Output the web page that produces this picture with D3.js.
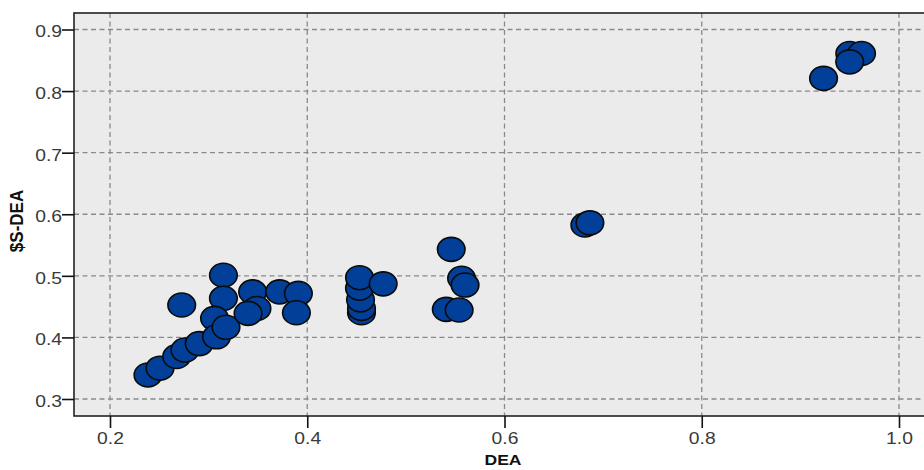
<!DOCTYPE html>
<html><head><meta charset="utf-8">
<script src="https://cdn.jsdelivr.net/npm/d3@7"></script>
<style>
body{margin:0;background:#fff;overflow:hidden}
svg{display:block}
.tick text{font-family:"Liberation Sans",Arial,sans-serif;font-size:16.5px;fill:#3a3a3a}
.ttl{font-family:"Liberation Sans",Arial,sans-serif;font-weight:bold;fill:#111}
</style></head><body>
<svg id="c" width="924" height="470"></svg>
<script>
const deaValues = [0.2385,0.2507,0.2676,0.276,0.2905,0.2727,0.315,0.315,0.306,0.308,0.3176,0.3446,0.349,0.340,0.372,0.391,0.389,
  0.455,0.455,0.454,0.453,0.453,0.477,0.546,0.5565,0.560,0.541,0.554,0.6815,0.6866,0.9235,0.9501,0.962,0.950];
const sDeaValues = [0.339,0.350,0.369,0.3795,0.390,0.4526,0.501,0.4635,0.431,0.401,0.4164,0.474,0.447,0.439,0.474,0.4715,0.440,
  0.440,0.447,0.461,0.480,0.497,0.487,0.543,0.496,0.485,0.4456,0.4445,0.5825,0.586,0.8206,0.861,0.861,0.8475];
const xTicks = [0.2,0.4,0.6,0.8,1.0];
const yTicks = [0.3,0.4,0.5,0.6,0.7,0.8,0.9];

const svg = d3.select("#c");
const L=74, T=13, B=416, R=930, SX=1.17;
const x = d3.scaleLinear().domain([0.2,1.0]).range([110,899]);
const y = d3.scaleLinear().domain([0.3,0.9]).range([399,29.5]);

svg.append("rect").attr("x",L).attr("y",T).attr("width",R-L).attr("height",B-T).attr("fill","#ebebeb");

const g = svg.append("g");
g.selectAll(".gx").data(xTicks).join("line")
  .attr("x1",d=>x(d)).attr("x2",d=>x(d)).attr("y1",T).attr("y2",B)
  .attr("stroke","#8a8a8a").attr("stroke-width",1.3).attr("stroke-dasharray","5,3.5");
g.selectAll(".gy").data(yTicks).join("line")
  .attr("x1",L).attr("x2",R).attr("y1",d=>y(d)).attr("y2",d=>y(d))
  .attr("stroke","#8a8a8a").attr("stroke-width",1.3).attr("stroke-dasharray","5,3.5");

const pts = deaValues.map((v,i)=>({x:v,y:sDeaValues[i]}));
svg.append("g").selectAll("ellipse").data(pts).join("ellipse")
  .attr("cx",d=>x(d.x)).attr("cy",d=>y(d.y)).attr("rx",13.8).attr("ry",12)
  .attr("fill","#013f98").attr("stroke","#0a0a0a").attr("stroke-width",1.6);

svg.append("rect").attr("x",L).attr("y",T).attr("width",R-L).attr("height",B-T)
  .attr("fill","none").attr("stroke","#222").attr("stroke-width",1.6);

const xa = svg.append("g").attr("transform",`translate(0,${B})`)
  .call(d3.axisBottom(x).tickValues(xTicks).tickFormat(d3.format(".1f")).tickSize(12).tickPadding(4));
const ya = svg.append("g").attr("transform",`translate(${L},0)`)
  .call(d3.axisLeft(y).tickValues(yTicks).tickFormat(d3.format(".1f")).tickSize(12).tickPadding(0));
[xa,ya].forEach(a=>{a.select(".domain").remove();a.selectAll(".tick line").attr("stroke","#111").attr("stroke-width",1.6);});
xa.selectAll(".tick text").attr("transform",`scale(${SX},1)`);
ya.selectAll(".tick text").each(function(){
  const t=d3.select(this); t.attr("x",+t.attr("x")/SX).attr("dy","0.45em").attr("transform",`scale(${SX},1)`);
});

svg.append("text").attr("class","ttl").attr("font-size",15)
  .attr("transform",`translate(503,465) scale(${SX},1)`).attr("text-anchor","middle").text("DEA");
svg.append("text").attr("class","ttl").attr("font-size",17)
  .attr("transform","translate(23,221) rotate(-90) scale(1,1.12)").attr("text-anchor","middle").text("$S-DEA");
</script></body></html>
